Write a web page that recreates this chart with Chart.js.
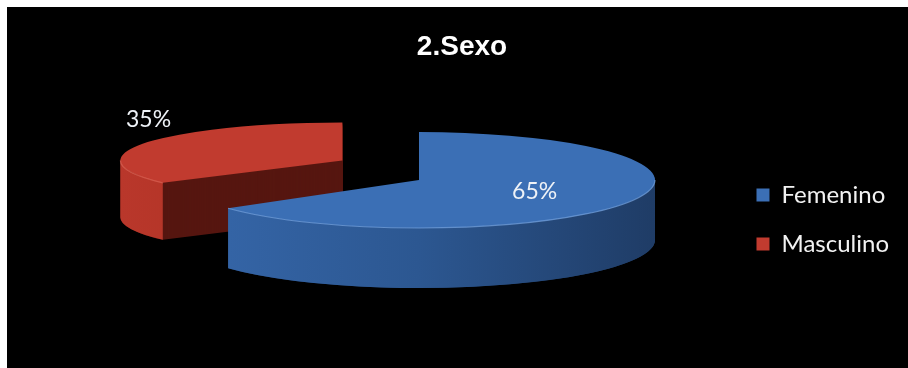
<!DOCTYPE html>
<html>
<head>
<meta charset="utf-8">
<script src="https://cdn.jsdelivr.net/npm/chart.js@4/dist/chart.umd.min.js"></script>
<style>
  html, body { margin: 0; padding: 0; background: #fff; }
  #wrap { position: absolute; left: 7px; top: 7px; width: 901px; height: 361px; background: #000; }
</style>
</head>
<body>
<div id="wrap"><canvas id="sexoChart" width="901" height="361"></canvas></div>
<script>
// datos
var categorias = ['Femenino', 'Masculino'];
var porcentajes = [65, 35];

// colores: tapa, borde lateral, cara de corte
var coloresTapa = ['#3b6fb5', '#c13b2f'];
var coloresBorde = [['#3667aa', '#2c5791', '#1f3c66'], ['#b9372b', '#a8301f', '#8c2a1f']];
var coloresCorte = ['#1f3c66', '#561610'];

// proyeccion del pastel "3D"
var CX = 412, CY = 173, PROF = 60;
var radioX = [236, 222];
var radioY = [48, 38];
var EXPLOTA_Y = 0.5;
var etiquetaRadio = [0.55, 0.98];
var etiquetaSube = [0, 24];

function trozo(ctx, cx, cy, rx, ry, a0, a1) {
  ctx.beginPath();
  ctx.moveTo(cx, cy);
  ctx.ellipse(cx, cy, rx, ry, 0, a0, a1);
  ctx.closePath();
}

var pastel3d = {
  id: 'pastel3d',
  beforeDatasetsDraw: function (chart) {
    var ctx = chart.ctx;
    var arcs = chart.getDatasetMeta(0).data;
    var centros = [];
    // primero la porcion de atras (roja), luego la azul
    [1, 0].forEach(function (i) {
      var arc = arcs[i];
      var a0 = arc.startAngle, a1 = arc.endAngle;
      var mid = (a0 + a1) / 2;
      var off = arc.options.offset || 0;
      var rx = radioX[i], ry = radioY[i];
      var prof = i === 0 ? PROF : PROF - 3;
      var cx = CX + Math.cos(mid) * off;
      var cy = CY + Math.sin(mid) * off * EXPLOTA_Y;
      centros[i] = {x: cx, y: cy, mid: mid, rx: rx, ry: ry};

      ctx.save();
      // caras de corte
      for (var d = prof; d > 0; d--) {
        trozo(ctx, cx, cy + d, rx, ry, a0, a1);
        ctx.fillStyle = coloresCorte[i];
        ctx.fill();
      }
      // borde exterior visible
      var v0 = Math.max(a0, 0), v1 = Math.min(a1, Math.PI);
      if (v1 > v0) {
        ctx.beginPath();
        ctx.ellipse(cx, cy, rx, ry, 0, v0, v1);
        ctx.ellipse(cx, cy + prof, rx, ry, 0, v1, v0, true);
        ctx.closePath();
        var g = ctx.createLinearGradient(cx - rx, 0, cx + rx, 0);
        g.addColorStop(0, coloresBorde[i][0]);
        g.addColorStop(0.5, coloresBorde[i][1]);
        g.addColorStop(1, coloresBorde[i][2]);
        ctx.fillStyle = g;
        ctx.fill();
      }
      // tapa
      trozo(ctx, cx, cy, rx, ry, a0, a1);
      ctx.fillStyle = coloresTapa[i];
      ctx.fill();
      // brillo del canto
      if (v1 > v0) {
        ctx.beginPath();
        ctx.ellipse(cx, cy, rx, ry, 0, v0, v1);
        ctx.strokeStyle = i === 0 ? 'rgba(120,165,225,0.7)' : 'rgba(230,110,95,0.6)';
        ctx.lineWidth = 1.2;
        ctx.stroke();
      }
      ctx.restore();
    });

    // etiquetas de porcentaje
    ctx.save();
    ctx.font = '23px Lato';
    ctx.fillStyle = '#eef2f7';
    ctx.textAlign = 'center';
    ctx.textBaseline = 'middle';
    porcentajes.forEach(function (v, i) {
      var c = centros[i];
      var x = c.x + Math.cos(c.mid) * c.rx * etiquetaRadio[i];
      var y = c.y + Math.sin(c.mid) * c.ry * etiquetaRadio[i] - etiquetaSube[i];
      ctx.fillText(v + '%', x, y);
    });
    ctx.restore();
    return false;
  }
};

var ctx = document.getElementById('sexoChart').getContext('2d');
var chart = new Chart(ctx, {
  type: 'pie',
  data: {
    labels: categorias,
    datasets: [{
      data: porcentajes,
      backgroundColor: coloresTapa,
      borderWidth: 0,
      offset: [0, 86]
    }]
  },
  options: {
    responsive: false,
    animation: false,
    layout: { padding: { left: 18, right: 9 } },
    plugins: {
      title: {
        display: true,
        text: '2.Sexo',
        color: '#ffffff',
        font: { family: '"Liberation Sans", Arial, sans-serif', size: 28, weight: 'bold' },
        padding: { top: 23, bottom: 7 }
      },
      legend: {
        position: 'right',
        title: {
          display: true,
          text: ' ',
          font: { size: 10 },
          padding: { top: 0, bottom: 52 }
        },
        labels: {
          color: '#f2f2f2',
          font: { family: 'Lato', size: 24 },
          boxWidth: 13,
          boxHeight: 13,
          padding: 25
        }
      },
      tooltip: { enabled: false }
    }
  },
  plugins: [pastel3d]
});
</script>
</body>
</html>
